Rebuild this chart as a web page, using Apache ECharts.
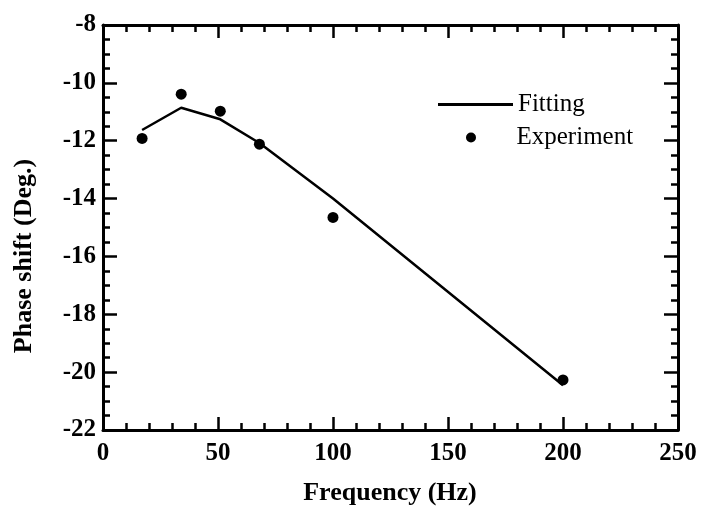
<!DOCTYPE html>
<html>
<head>
<meta charset="utf-8">
<script src="https://cdn.jsdelivr.net/npm/echarts@6/dist/echarts.min.js"></script>
<style>
  html, body { margin: 0; padding: 0; background: #fff; }
  #myCharts { width: 702px; height: 508px; }
</style>
</head>
<body>
<div id="myCharts"></div>
<script>
// 数据
const frequency = [17, 34, 51, 68, 100, 200];
const fitting = [-11.63, -10.86, -11.26, -12.08, -14.0, -20.45];
const experiment = [-11.92, -10.39, -10.98, -12.12, -14.65, -20.27];
const xTicks = [0, 50, 100, 150, 200, 250];
const yTicks = [-22, -20, -18, -16, -14, -12, -10, -8];

const font = "'Liberation Serif', 'Times New Roman', serif";

const myCharts = echarts.init(document.getElementById("myCharts"));

function pairs(xs, ys) {
  return xs.map((x, i) => [x, ys[i]]);
}

const lineStyle = { color: "#000", width: 3 };

function xAxisOf(pos, showLabel) {
  return {
    type: "value",
    position: pos,
    min: xTicks[0],
    max: xTicks[xTicks.length - 1],
    interval: 50,
    axisLine: { show: true, onZero: false, lineStyle: lineStyle },
    axisTick: { show: true, inside: true, length: 13, lineStyle: { color: "#000", width: 2.5 } },
    minorTick: { show: true, splitNumber: 5, length: 7, lineStyle: { color: "#000", width: 2.5 } },
    splitLine: { show: false },
    axisLabel: {
      show: showLabel,
      margin: 11,
      color: "#000",
      fontFamily: font,
      fontWeight: "bold",
      fontSize: 25
    }
  };
}

function yAxisOf(pos, showLabel) {
  return {
    type: "value",
    position: pos,
    min: yTicks[0],
    max: yTicks[yTicks.length - 1],
    interval: 2,
    axisLine: { show: true, onZero: false, lineStyle: lineStyle },
    axisTick: { show: true, inside: true, length: 14, lineStyle: { color: "#000", width: 2.5 } },
    minorTick: { show: true, splitNumber: 4, length: 7, lineStyle: { color: "#000", width: 2.5 } },
    splitLine: { show: false },
    axisLabel: {
      show: showLabel,
      margin: 7,
      color: "#000",
      fontFamily: font,
      fontWeight: "bold",
      fontSize: 25
    }
  };
}

const legendText = { color: "#000", fontFamily: font, fontSize: 25 };

let option = {
  animation: false,
  backgroundColor: "#fff",
  grid: { left: 103, right: 24, top: 25, bottom: 78, containLabel: false },
  legend: [
    {
      left: 433,
      top: 87,
      itemWidth: 75,
      itemHeight: 3,
      textStyle: legendText,
      data: [{ name: "Fitting", icon: "rect" }]
    },
    {
      left: 461,
      top: 120,
      itemWidth: 75,
      itemHeight: 10,
      textStyle: Object.assign({ padding: [0, 0, 0, 3] }, legendText),
      data: [{ name: "Experiment", icon: "circle" }]
    }
  ],
  xAxis: [xAxisOf("bottom", true), xAxisOf("top", false)],
  yAxis: [yAxisOf("left", true), yAxisOf("right", false)],
  graphic: [
    {
      type: "text",
      rotation: Math.PI / 2,
      x: 24,
      y: 256,
      style: {
        text: "Phase shift (Deg.)",
        font: "bold 26px " + font,
        fill: "#000",
        align: "center",
        verticalAlign: "middle"
      }
    },
    {
      type: "text",
      x: 390,
      y: 493,
      style: {
        text: "Frequency (Hz)",
        font: "bold 26px " + font,
        fill: "#000",
        align: "center",
        verticalAlign: "middle"
      }
    }
  ],
  series: [
    {
      name: "Fitting",
      type: "line",
      data: pairs(frequency, fitting),
      symbol: "none",
      lineStyle: { color: "#000", width: 2.5 },
      itemStyle: { color: "#000" }
    },
    {
      name: "Experiment",
      type: "scatter",
      data: pairs(frequency, experiment),
      symbol: "circle",
      symbolSize: 11,
      itemStyle: { color: "#000", opacity: 1 }
    }
  ]
};
myCharts.setOption(option);
</script>
</body>
</html>
